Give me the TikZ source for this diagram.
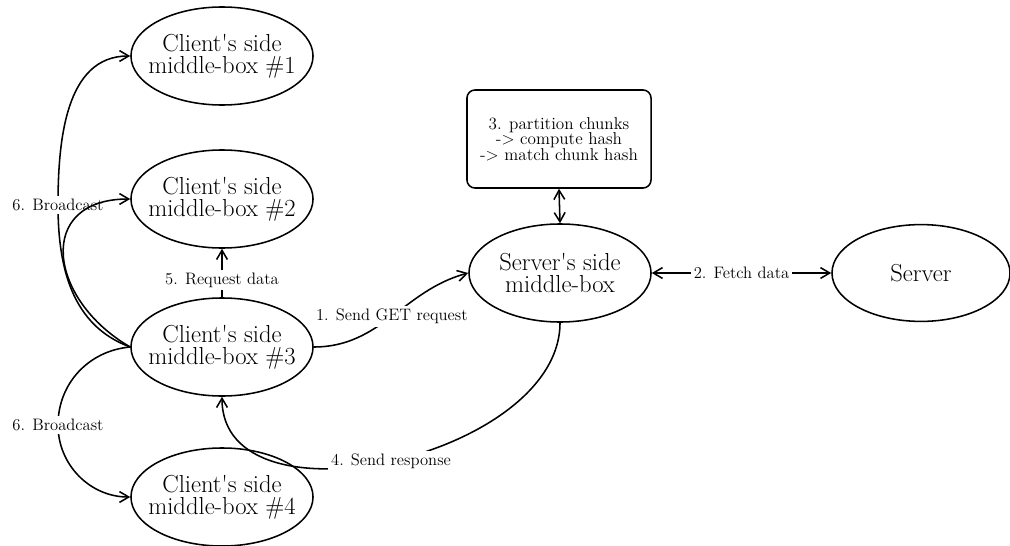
\documentclass[tikz,border=0pt]{standalone}
\usetikzlibrary{shapes.geometric,arrows.meta}
\begin{document}
\begin{tikzpicture}[x=0.025cm,y=0.025cm,
  >={Straight Barb[length=2.3mm,width=2.7mm]},
  every path/.style={line width=1.1pt},
  ell/.style={draw,ellipse,inner xsep=-0.3cm,inner ysep=0pt,align=center,font=\fontsize{17.5}{15.8}\selectfont},
  cl/.style={ell,minimum width=4.55cm,minimum height=2.45cm},
  rbox/.style={draw,rounded corners=2mm,inner sep=0pt,minimum width=4.6cm,minimum height=2.45cm,align=center,font=\fontsize{12.2}{11.1}\selectfont},
  lbl/.style={fill=white,inner sep=2pt,font=\fontsize{11.8}{12}\selectfont},
  arr/.style={->}]
\path[use as bounding box] (0,0) rectangle (1010,-545);
\node[cl] (c1) at (222,-56) {Client\textquotesingle s side\\middle-box \#1};
\node[cl] (c2) at (222,-199) {Client\textquotesingle s side\\middle-box \#2};
\node[cl] (c3) at (222,-347) {Client\textquotesingle s side\\middle-box \#3};
\node[cl] (c4) at (222,-497) {Client\textquotesingle s side\\middle-box \#4};
\node[cl] (ss) at (560,-273) {Server\textquotesingle s side\\middle-box};
\node[ell,minimum width=4.45cm,minimum height=2.42cm] (srv) at (921,-273) {Server};
\node[rbox] (box) at (559,-139) {3. partition chunks\\-> compute hash\\-> match chunk hash};
\coordinate (b1) at (58,-205);
\coordinate (b2) at (58,-425);
% broadcast upper
\draw[arr] (c3.west) to[out=160,in=-90] (b1) to[out=90,in=180] (c1.west);
\node[lbl] (l6a) at (b1) {6. Broadcast};
\draw[arr] (c3.west) to[out=150,in=180,looseness=1.65] (c2.west);
% broadcast lower
\draw[arr] (c3.west) to[out=185,in=90] (b2) to[out=-90,in=180] (c4.west);
\node[lbl] (l6b) at (b2) {6. Broadcast};
% request data
\draw[arr] (c3.north) -- node[lbl,pos=0.35] {5. Request data} (c2.south);
% GET
\draw[arr] (c3.east) to[out=0,in=195] node[lbl] {1. Send GET request} (ss.west);
% fetch
\draw[<->] (ss.east) -- node[lbl] {2. Fetch data} (srv.west);
% box
\draw[<->] (box.south) -- (ss.north);
% response
\draw[arr] (ss.south) to[out=-90,in=-90] node[lbl] {4. Send response} (c3.south);
\end{tikzpicture}
\end{document}
